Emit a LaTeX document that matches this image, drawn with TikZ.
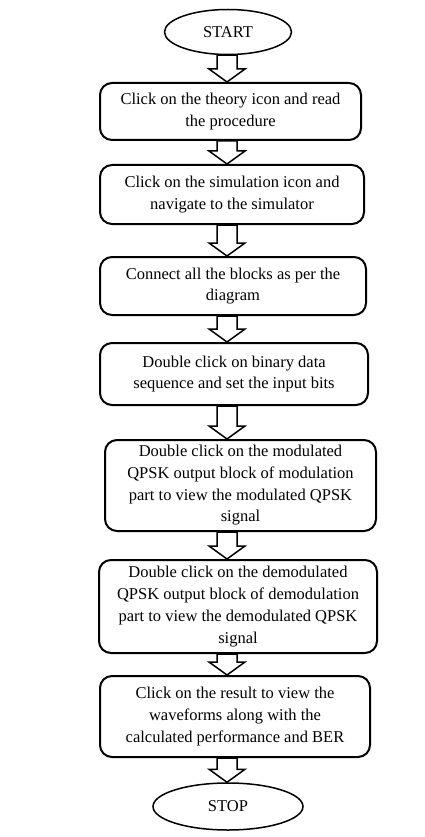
\documentclass[tikz,border=0pt]{standalone}
\usepackage{fontspec}
\setmainfont{Liberation Serif}
\usepackage{tikz}
\usetikzlibrary{calc,
                shapes.geometric
                }

\tikzset{
    flowfont/.style={font=\fontsize{16.5}{21.7}\selectfont},
    terminal/.style={draw, ellipse, line width=1.5pt, inner sep=0pt, flowfont},
    stepbox/.style={draw, line width=2pt, rounded corners=12pt, align=center,
                    inner sep=0pt, flowfont},
    blockarrow/.style={draw, line width=1.5pt, fill=white, line join=miter}
}

% hohler Blockpfeil von Knoten #1 nach Knoten #2, auf der Achse (axis)
\newcommand{\flowarrow}[2]{%
    \draw[blockarrow] let \p1=(#1.south), \p2=(#2.north), \p3=(axis) in
        (\x3-10pt,\y1) -- (\x3+10pt,\y1) -- (\x3+10pt,\y2+13pt)
        -- (\x3+18pt,\y2+13pt) -- (\x3,\y2) -- (\x3-18pt,\y2+13pt)
        -- (\x3-10pt,\y2+13pt) -- cycle;}

\begin{document}
\begin{tikzpicture}[x=1pt, y=1pt]
    \useasboundingbox (0,0) rectangle (425,-837);

    % Achse der Pfeile
    \coordinate (axis) at (227,0);

    % Start und Ende
    \node[terminal, minimum width=127pt, minimum height=45pt] (start) at (228,-32) {START};
    \node[terminal, minimum width=150pt, minimum height=47pt] (stop) at (228,-806.5) {STOP};

    % Arbeitsschritte
    \node[stepbox, minimum width=261pt, minimum height=57pt] (theory) at (230.5,-111.5)
        {Click on the theory icon and read\\the procedure};
    \node[stepbox, minimum width=264pt, minimum height=59pt] (simul) at (232,-194.5)
        {Click on the simulation icon and\\navigate to the simulator};
    \node[stepbox, minimum width=266pt, minimum height=58pt] (connect) at (233,-286)
        {Connect all the blocks as per the\\diagram};
    \node[stepbox, minimum width=268pt, minimum height=62pt] (binary) at (234,-374)
        {Double click on binary data\\sequence and set the input bits};
    \node[stepbox, minimum width=271pt, minimum height=91pt] (modout) at (240.5,-485.5)
        {Double click on the modulated\\QPSK output block of modulation\\part to view the modulated QPSK\\signal};
    \node[stepbox, minimum width=278pt, minimum height=93pt] (demodout) at (238,-606.5)
        {Double click on the demodulated\\QPSK output block of demodulation\\part to view the demodulated QPSK\\signal};
    \node[stepbox, minimum width=270pt, minimum height=81pt] (result) at (235,-716.5)
        {Click on the result to view the\\waveforms along with the\\calculated performance and BER};

    % Pfeile zwischen den Schritten
    \flowarrow{start}{theory}
    \flowarrow{theory}{simul}
    \flowarrow{simul}{connect}
    \flowarrow{connect}{binary}
    \flowarrow{binary}{modout}
    \flowarrow{modout}{demodout}
    \flowarrow{demodout}{result}
    \flowarrow{result}{stop}

\end{tikzpicture}
\end{document}
